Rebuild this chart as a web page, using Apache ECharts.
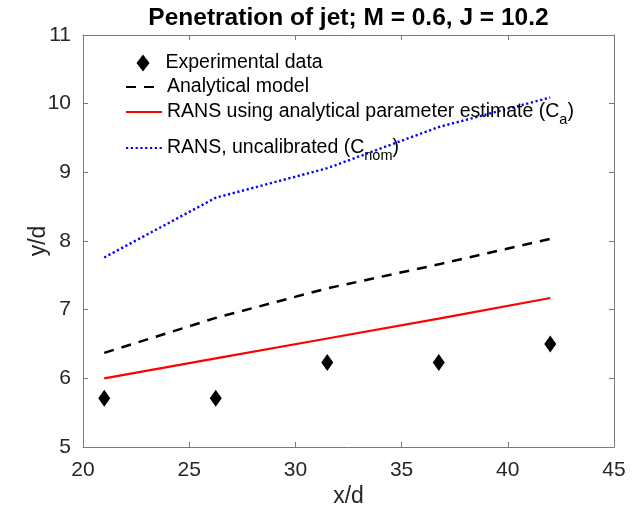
<!DOCTYPE html>
<html>
<head>
<meta charset="utf-8">
<script src="https://cdn.jsdelivr.net/npm/echarts@6/dist/echarts.min.js"></script>
<style>
  html, body { margin: 0; padding: 0; background: #fff; }
  #chart { width: 638px; height: 509px; }
</style>
</head>
<body>
<div id="chart"></div>
<script>
// ---- data ----
const xValues = [21, 26.25, 31.5, 36.75, 42];
const experimental = [5.71, 5.71, 6.23, 6.23, 6.50];
const analytical = [6.37, 6.88, 7.31, 7.66, 8.03];
const ransCa = [6.00, 6.29, 6.58, 6.87, 7.17];
const ransCnom = [7.76, 8.63, 9.06, 9.66, 10.09];
const xTicks = [20, 25, 30, 35, 40, 45];
const yTicks = [5, 6, 7, 8, 9, 10, 11];
const names = ['Experimental data', 'Analytical model',
  'RANS using analytical parameter estimate (Ca)', 'RANS, uncalibrated (Cnom)'];

const zip = (ys) => xValues.map((x, i) => [x, ys[i]]);
const FONT = '"Liberation Sans", Arial, Helvetica, sans-serif';
const axisColor = '#7a7a7a';
const textColor = '#262626';

const chart = echarts.init(document.getElementById('chart'), null, { renderer: 'canvas' });

const richLegend = {
  n: { fontSize: 19.5, fontFamily: FONT, color: '#000', lineHeight: 21 },
  s: { fontSize: 14.5, fontFamily: FONT, color: '#000', padding: [16, 0, 0, 0] }
};

function legendFormatter(name) {
  if (name === names[2]) return '{n|RANS using analytical parameter estimate (C}{s|a}{n|)}';
  if (name === names[3]) return '{n|RANS, uncalibrated (C}{s|nom}{n|)}';
  return '{n|' + name + '}';
}

function makeLegend(name, top, extra) {
  return Object.assign({
    data: [name],
    left: 125,
    top: top,
    orient: 'vertical',
    padding: 0,
    itemWidth: 36,
    itemHeight: 14,
    selectedMode: false,
    itemStyle: { opacity: 0 },
    formatter: legendFormatter,
    textStyle: { rich: richLegend, fontFamily: FONT, fontSize: 19.5, color: '#000' }
  }, extra || {});
}

const option = {
  animation: false,
  backgroundColor: '#fff',
  title: {
    text: 'Penetration of jet; M = 0.6, J = 10.2',
    left: 348.5,
    textAlign: 'center',
    top: 6,
    padding: 0,
    textStyle: { fontFamily: FONT, fontSize: 24.5, fontWeight: 'bold', color: '#000' }
  },
  legend: [
    makeLegend(names[0], 53, { itemWidth: 13, itemHeight: 17, left: 136.5,
      itemStyle: { opacity: 1 },
      textStyle: { rich: richLegend, fontFamily: FONT, fontSize: 19.5, color: '#000', padding: [0, 0, 0, 11] } }),
    makeLegend(names[1], 77),
    makeLegend(names[2], 102),
    makeLegend(names[3], 138)
  ],
  grid: { left: 83, right: 24, top: 35, bottom: 62, containLabel: false, outerBoundsMode: 'none' },
  xAxis: [{
    type: 'value', min: 20, max: 45, interval: 5,
    name: 'x/d', nameLocation: 'middle', nameGap: 38, nameMoveOverlap: false,
    nameTextStyle: { fontFamily: FONT, fontSize: 23, color: textColor },
    axisLine: { show: true, lineStyle: { color: axisColor, width: 1 } },
    axisTick: { show: true, inside: true, length: 5, lineStyle: { color: axisColor } },
    axisLabel: { fontFamily: FONT, fontSize: 21, color: textColor, margin: 13 },
    splitLine: { show: false }
  }, {
    type: 'value', min: 20, max: 45, interval: 5, position: 'top',
    axisLine: { show: true, lineStyle: { color: axisColor, width: 1 } },
    axisTick: { show: true, inside: true, length: 5, lineStyle: { color: axisColor } },
    axisLabel: { show: false },
    splitLine: { show: false }
  }],
  yAxis: [{
    type: 'value', min: 5, max: 11, interval: 1,
    name: 'y/d', nameLocation: 'middle', nameGap: 33, nameRotate: 90, nameMoveOverlap: false,
    nameTextStyle: { fontFamily: FONT, fontSize: 23, color: textColor },
    axisLine: { show: true, lineStyle: { color: axisColor, width: 1 } },
    axisTick: { show: true, inside: true, length: 5, lineStyle: { color: axisColor } },
    axisLabel: { fontFamily: FONT, fontSize: 21, color: textColor, margin: 12, padding: [5, 0, 0, 0] },
    splitLine: { show: false }
  }, {
    type: 'value', min: 5, max: 11, interval: 1, position: 'right',
    axisLine: { show: true, lineStyle: { color: axisColor, width: 1 } },
    axisTick: { show: true, inside: true, length: 5, lineStyle: { color: axisColor } },
    axisLabel: { show: false },
    splitLine: { show: false }
  }],
  series: [
    {
      name: names[0], type: 'scatter', data: zip(experimental),
      symbol: 'diamond', symbolSize: [12, 17],
      itemStyle: { color: '#000', opacity: 1 }, z: 5
    },
    {
      name: names[1], type: 'line', data: zip(analytical), symbol: 'none',
      lineStyle: { color: '#000', width: 2.5, type: [10, 8] },
      itemStyle: { color: '#000' }
    },
    {
      name: names[2], type: 'line', data: zip(ransCa), symbol: 'none',
      lineStyle: { color: '#ff0000', width: 2.2, type: 'solid' },
      itemStyle: { color: '#ff0000' }
    },
    {
      name: names[3], type: 'line', data: zip(ransCnom), symbol: 'none',
      lineStyle: { color: '#0000ff', width: 2.4, type: [2.2, 2.6] },
      itemStyle: { color: '#0000ff' }
    }
  ]
};

chart.setOption(option);
</script>
</body>
</html>
